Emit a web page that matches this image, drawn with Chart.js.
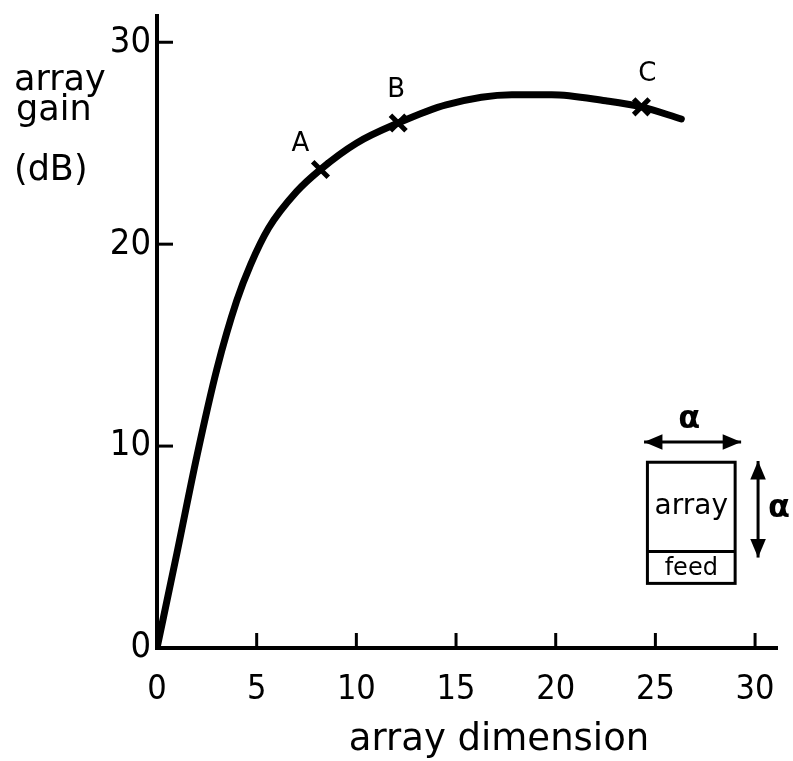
<!DOCTYPE html>
<html>
<head>
<meta charset="utf-8">
<script src="https://cdn.jsdelivr.net/npm/chart.js@4/dist/chart.umd.min.js"></script>
<style>
  html, body { margin: 0; padding: 0; background: #fff; overflow: hidden; }
  canvas { display: block; }
</style>
</head>
<body>
<canvas id="gain" width="793" height="761"></canvas>
<script>
// curve
const dimension = [0, 1.0, 2.0, 3.0, 4.0, 4.7, 5.6, 7.0, 8.2, 10.0, 12.1, 14.5, 17.8, 19.8, 22.5, 24.3, 26.3];
const gainDb    = [0, 4.7, 9.5, 13.8, 17.2, 19.0, 20.8, 22.6, 23.7, 25.0, 26.0, 26.9, 27.4, 27.4, 27.1, 26.8, 26.2];

// marked points
const markNames = ['A', 'B', 'C'];
const markDim   = [8.2, 12.1, 24.3];
const markGain  = [23.7, 26.0, 26.8];

const xTicks = [0, 5, 10, 15, 20, 25, 30];
const yTicks = [0, 10, 20, 30];

const FONT = '"DejaVu Sans", sans-serif';
const FONT_C = '"DejaVu Sans Condensed", "DejaVu Sans", sans-serif';

// short inward tick marks, titles, point letters and the little sketch
const extras = {
  id: 'extras',
  afterDraw(chart) {
    const ctx = chart.ctx;
    const xs = chart.scales.x, ys = chart.scales.y;
    const area = chart.chartArea;
    ctx.save();
    ctx.strokeStyle = '#000';
    ctx.fillStyle = '#000';
    ctx.lineWidth = 3;
    ctx.lineCap = 'butt';
    xTicks.forEach(v => {
      if (v === 0) return;
      const px = xs.getPixelForValue(v);
      ctx.beginPath(); ctx.moveTo(px, area.bottom); ctx.lineTo(px, area.bottom - 15); ctx.stroke();
    });
    yTicks.forEach(v => {
      if (v === 0) return;
      const py = ys.getPixelForValue(v);
      ctx.beginPath(); ctx.moveTo(area.left, py); ctx.lineTo(area.left + 16, py); ctx.stroke();
    });

    // y title, horizontal in three lines
    ctx.font = '35px ' + FONT;
    ctx.textAlign = 'left';
    ctx.textBaseline = 'alphabetic';
    ctx.fillText('array', 14, 90);
    ctx.fillText('gain', 16, 120);
    ctx.fillText('(dB)', 14, 180);

    // x title
    ctx.font = '37px ' + FONT;
    ctx.textAlign = 'center';
    ctx.fillText('array dimension', 499, 750);

    // point letters
    const meta = chart.getDatasetMeta(1);
    const offs = [[-20, -12], [-2, -20], [6, -20]];
    ctx.font = '26px ' + FONT;
    ctx.textBaseline = 'bottom';
    meta.data.forEach((pt, i) => {
      ctx.fillText(markNames[i], pt.x + offs[i][0], pt.y + offs[i][1]);
    });

    // inset sketch: array with feed
    const X = v => xs.getPixelForValue(v), Y = v => ys.getPixelForValue(v);
    const bl = X(24.6), br = X(29.0), bt = Y(9.2), bm = Y(4.78), bb = Y(3.2);
    ctx.lineWidth = 3;
    ctx.strokeRect(bl, bt, br - bl, bb - bt);
    ctx.beginPath(); ctx.moveTo(bl, bm); ctx.lineTo(br, bm); ctx.stroke();
    ctx.font = '28px ' + FONT;
    ctx.textBaseline = 'middle';
    ctx.fillText('array', (bl + br) / 2, Y(7.0));
    ctx.font = '24px ' + FONT;
    ctx.fillText('feed', (bl + br) / 2, (bm + bb) / 2 + 1);

    const arrow = (x1, y1, x2, y2) => {
      ctx.beginPath(); ctx.moveTo(x1, y1); ctx.lineTo(x2, y2); ctx.stroke();
      const head = (hx, hy, ang) => {
        ctx.beginPath();
        ctx.moveTo(hx, hy);
        ctx.lineTo(hx - 20 * Math.cos(ang - 0.4), hy - 20 * Math.sin(ang - 0.4));
        ctx.lineTo(hx - 20 * Math.cos(ang + 0.4), hy - 20 * Math.sin(ang + 0.4));
        ctx.closePath(); ctx.fill();
      };
      const a = Math.atan2(y2 - y1, x2 - x1);
      head(x2, y2, a);
      head(x1, y1, a + Math.PI);
    };
    ctx.lineWidth = 3;
    arrow(X(24.43), Y(10.2), X(29.3), Y(10.2));
    arrow(X(30.15), Y(9.26), X(30.15), Y(4.48));
    ctx.font = 'bold 32px ' + FONT;
    ctx.fillText('α', X(26.7), Y(11.3));
    ctx.fillText('α', X(31.2), Y(6.9));
    ctx.restore();
  }
};

const noPad = s => {
  s.paddingTop = 0; s.paddingBottom = 0; s.paddingLeft = 0; s.paddingRight = 0;
};

new Chart(document.getElementById('gain'), {
  type: 'scatter',
  data: {
    datasets: [
      {
        data: dimension.map((d, i) => ({ x: d, y: gainDb[i] })),
        showLine: true,
        borderColor: '#000',
        borderWidth: 7,
        borderCapStyle: 'round',
        cubicInterpolationMode: 'monotone',
        pointRadius: 0,
        fill: false
      },
      {
        data: markDim.map((d, i) => ({ x: d, y: markGain[i] })),
        showLine: false,
        pointStyle: 'crossRot',
        pointRadius: 11,
        borderColor: '#000',
        borderWidth: 5
      }
    ]
  },
  options: {
    responsive: false,
    animation: false,
    events: [],
    layout: { padding: { left: 7, right: 7, top: 12, bottom: 0 } },
    plugins: { legend: { display: false }, tooltip: { enabled: false } },
    scales: {
      x: {
        type: 'linear',
        min: 0,
        max: 31.1,
        afterFit: s => { s.height = 113; noPad(s); },
        afterBuildTicks: s => { s.ticks = xTicks.map(v => ({ value: v })); },
        ticks: { color: '#000', padding: 22, maxRotation: 0, font: { family: FONT_C, size: 34 } },
        grid: { drawOnChartArea: false, drawTicks: false },
        border: { color: '#000', width: 4 }
      },
      y: {
        min: 0,
        max: 31.3,
        afterFit: s => { s.width = 150; noPad(s); },
        afterBuildTicks: s => { s.ticks = yTicks.map(v => ({ value: v })); },
        ticks: { color: '#000', padding: 6, font: { family: FONT_C, size: 36 } },
        grid: { drawOnChartArea: false, drawTicks: false },
        border: { color: '#000', width: 4 }
      }
    }
  },
  plugins: [extras]
});
</script>
</body>
</html>
